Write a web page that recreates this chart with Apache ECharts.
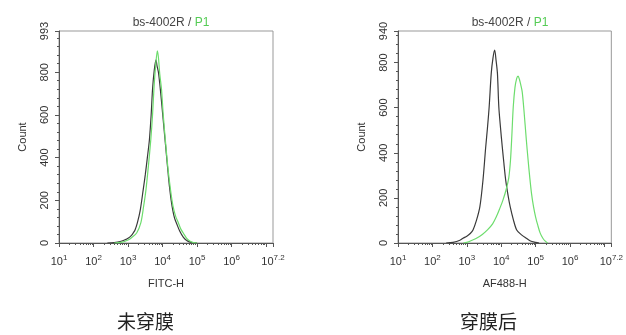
<!DOCTYPE html>
<html>
<head>
<meta charset="utf-8">
<script src="https://cdn.jsdelivr.net/npm/echarts@6/dist/echarts.min.js"></script>
<style>html,body{margin:0;padding:0;background:#fff}#c{width:626px;height:335px}</style>
</head>
<body>
<div id="c"></div>
<script>
// x values are log10(intensity)
var leftBlack = [[2.4,0],[2.6,2],[2.8,8],[2.9,14],[3.0,22],[3.1,36],[3.15,47],[3.2,60],[3.27,94],[3.35,150],[3.44,250],[3.5,320],[3.56,400],[3.62,485],[3.67,600],[3.71,720],[3.76,810],[3.81,858],[3.84,830],[3.88,800],[3.92,745],[3.96,680],[4.0,610],[4.04,540],[4.08,470],[4.12,400],[4.16,330],[4.2,265],[4.25,200],[4.3,150],[4.35,115],[4.41,90],[4.5,55],[4.6,28],[4.7,12],[4.8,4],[4.9,1],[5.0,0]];
var leftGreen = [[2.6,0],[2.8,3],[3.0,14],[3.1,25],[3.25,47],[3.37,94],[3.45,170],[3.52,250],[3.59,360],[3.66,485],[3.71,600],[3.75,720],[3.8,830],[3.85,900],[3.88,870],[3.92,790],[3.97,720],[4.02,600],[4.08,485],[4.15,360],[4.23,250],[4.3,175],[4.38,125],[4.46,94],[4.53,65],[4.6,47],[4.7,22],[4.8,8],[4.9,2],[5.0,0]];
var rightBlack = [[2.4,0],[2.6,3],[2.8,12],[2.89,21],[3.0,30],[3.1,42],[3.18,58],[3.28,100],[3.38,161],[3.47,279],[3.55,427],[3.6,510],[3.65,604],[3.71,752],[3.76,820],[3.81,855],[3.85,810],[3.89,752],[3.93,604],[3.98,510],[4.03,427],[4.08,350],[4.13,279],[4.2,210],[4.26,161],[4.35,105],[4.45,58],[4.6,35],[4.73,21],[4.85,9],[5.0,3],[5.1,0]];
var rightGreen = [[2.9,0],[3.0,3],[3.15,12],[3.28,21],[3.45,38],[3.6,58],[3.75,85],[3.86,117],[3.95,150],[4.05,190],[4.14,235],[4.22,290],[4.27,368],[4.31,480],[4.35,604],[4.4,690],[4.45,730],[4.49,740],[4.53,725],[4.57,700],[4.61,670],[4.66,590],[4.73,457],[4.78,370],[4.83,290],[4.88,220],[4.94,160],[5.0,115],[5.06,80],[5.13,45],[5.21,21],[5.28,8],[5.35,0]];

var xLabelExps = [1,2,3,4,5,6,7.2];
var xMajorTicks = [1,2,3,4,5,6,7,7.2];
var yMaxLeft = 993, yMaxRight = 940;
var xNames = ['FITC-H','AF488-H'];
var captions = ['未穿膜','穿膜后'];
var titleMain = 'bs-4002R / ', titleSub = 'P1';

var minorTicks = [];
for (var n = 1; n <= 7; n++) for (var k = 2; k <= 9; k++) { var v = n + Math.log10(k); if (v <= 7.2) minorTicks.push(v); }

var FONT = 'Liberation Sans, Arial, sans-serif';
var axisColor = '#555', textColor = '#333';
var grids = [
  {left: 59, top: 31, width: 214, height: 212, show: true, borderColor: '#999', borderWidth: 1},
  {left: 398, top: 31, width: 214, height: 212, show: true, borderColor: '#999', borderWidth: 1}
];

function xMajor(gi) {
  return {
    type: 'value', gridIndex: gi, min: 1, max: 7.2, name: xNames[gi], nameLocation: 'middle', nameGap: 35,
    nameTextStyle: {fontFamily: FONT, fontSize: 11, color: textColor},
    axisLine: {show: true, onZero: false, lineStyle: {color: axisColor, width: 1}},
    axisTick: {show: true, length: 4, customValues: xMajorTicks, lineStyle: {color: axisColor}},
    splitLine: {show: false},
    axisLabel: {
      customValues: xLabelExps, margin: 11, color: textColor,
      formatter: function (v) { var e = Math.abs(v - 7.2) < 1e-6 ? '7.2' : String(Math.round(v)); return '{b|10}{s|' + e + '}'; },
      rich: {b: {fontFamily: FONT, fontSize: 11, color: textColor}, s: {fontFamily: FONT, fontSize: 8, color: textColor, padding: [0, 0, 7, 0]}}
    }
  };
}
function xMinor(gi) {
  return {
    type: 'value', gridIndex: gi, min: 1, max: 7.2, position: 'bottom',
    axisLine: {show: false}, axisLabel: {show: false}, splitLine: {show: false},
    axisTick: {show: true, length: 2, customValues: minorTicks, lineStyle: {color: axisColor}}
  };
}
function yAx(gi, max) {
  return {
    type: 'value', gridIndex: gi, min: 0, max: max, interval: 200, name: 'Count', nameLocation: 'middle', nameGap: 31, nameRotate: 90,
    nameTextStyle: {fontFamily: FONT, fontSize: 11, color: textColor},
    axisLine: {show: true, lineStyle: {color: axisColor, width: 1}},
    axisTick: {show: true, length: 4, lineStyle: {color: axisColor}},
    minorTick: {show: true, splitNumber: 5, length: 2, lineStyle: {color: axisColor}},
    splitLine: {show: false}, minorSplitLine: {show: false},
    axisLabel: {rotate: 90, margin: 9, fontFamily: FONT, fontSize: 11, color: textColor, showMaxLabel: true}
  };
}
function line(data, xi, yi, color) {
  return {type: 'line', data: data, xAxisIndex: xi, yAxisIndex: yi, showSymbol: false, smooth: 0.3,
    lineStyle: {color: color, width: 1.2}, silent: true, animation: false};
}
function title(cx) {
  return {text: '{a|' + titleMain + '}{b|' + titleSub + '}', left: cx, top: 12, textAlign: 'center',
    textStyle: {fontWeight: 'normal', rich: {a: {fontFamily: FONT, fontSize: 12, fontWeight: 'normal', color: '#444'}, b: {fontFamily: FONT, fontSize: 12, fontWeight: 'normal', color: '#55cc55'}}}};
}

var chart = echarts.init(document.getElementById('c'), null, {renderer: 'canvas'});
chart.setOption({
  animation: false,
  backgroundColor: '#fff',
  title: [title(166), title(505)],
  grid: grids,
  xAxis: [xMajor(0), xMinor(0), xMajor(1), xMinor(1)],
  yAxis: [yAx(0, yMaxLeft), yAx(1, yMaxRight)],
  series: [
    line(leftBlack, 0, 0, '#3a3a3a'), line(leftGreen, 0, 0, '#6ddd6d'),
    line(rightBlack, 2, 1, '#3a3a3a'), line(rightGreen, 2, 1, '#6ddd6d')
  ],
  graphic: [
    {type: 'text', left: 117, top: 312, style: {text: captions[0], font: '19px "Noto Sans CJK SC"', fill: '#222'}},
    {type: 'text', left: 460, top: 312, style: {text: captions[1], font: '19px "Noto Sans CJK SC"', fill: '#222'}}
  ]
});
</script>
</body>
</html>
